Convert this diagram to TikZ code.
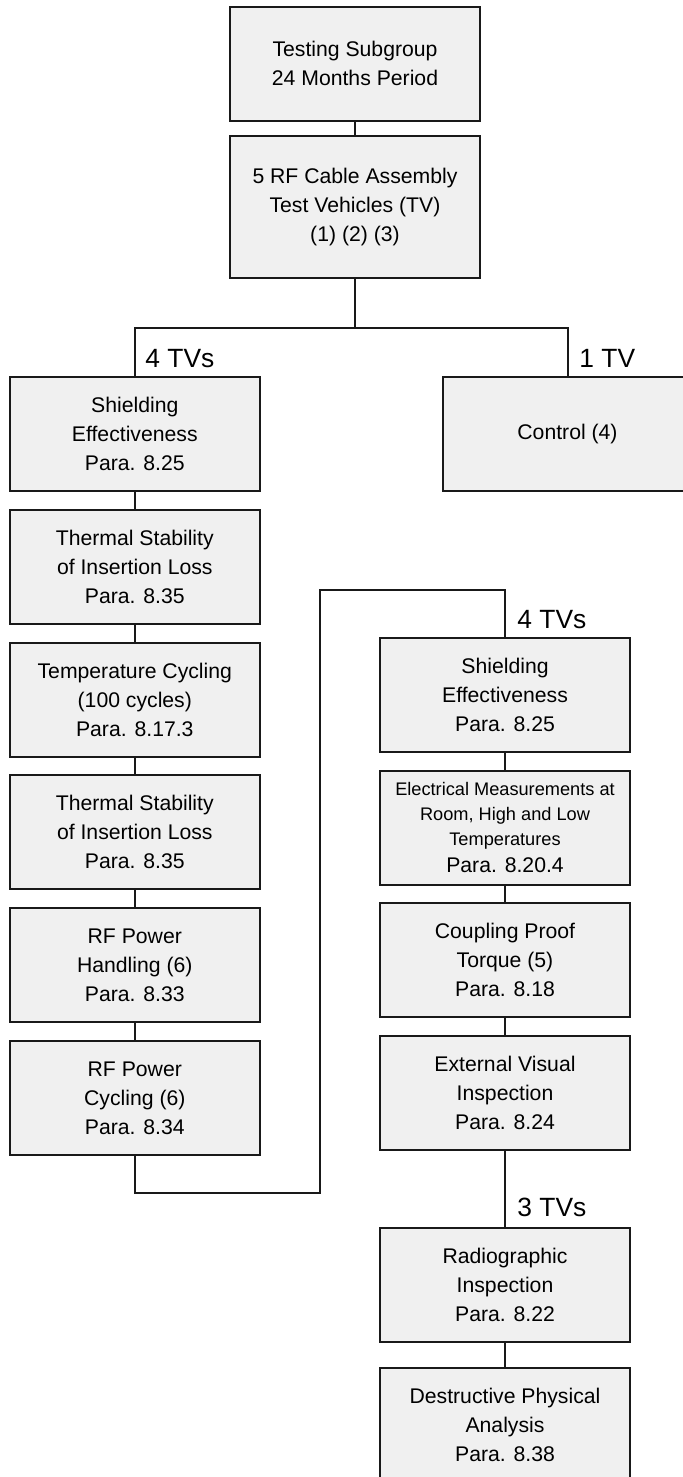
\documentclass[tikz,border=0pt]{standalone}
\usepackage{fontspec}
\setmainfont{Liberation Sans}
\usepackage{tikz}
\usetikzlibrary{positioning}
\tikzstyle{testbox} = [draw=black!90, fill=black!6, line width=1pt, minimum width=125pt, minimum height=57pt, align=center, inner sep=0pt, font=\fontsize{10.6}{14.5}\selectfont]
\tikzstyle{tvcount} = [anchor=base west, inner sep=0pt, font=\fontsize{13.2}{16}\selectfont]
\tikzstyle{link} = [line width=1pt, draw=black!90]

\begin{document}
\begin{tikzpicture}[x=0.5pt, y=-0.5pt, node distance=8.4pt]
    \clip (0,0) rectangle (683,1477);

    % Head of the flow
    \node[testbox] (subgroup) at (355,63.7) {Testing Subgroup\\24 Months Period};
    \node[testbox, minimum height=70.85pt] (vehicles) at (355,207) {5 RF Cable Assembly\\Test Vehicles (TV)\\(1) (2) (3)};

    % Left column (4 TVs)
    \node[testbox] (shieldA) at (134.8,434) {Shielding\\Effectiveness\\Para. 8.25};
    \node[testbox, below=of shieldA] (thermA) {Thermal Stability\\of Insertion Loss\\Para. 8.35};
    \node[testbox, below=of thermA] (tempcyc) {Temperature Cycling\\(100 cycles)\\Para. 8.17.3};
    \node[testbox, below=of tempcyc] (thermB) {Thermal Stability\\of Insertion Loss\\Para. 8.35};
    \node[testbox, below=of thermB] (rfhandle) {RF Power\\Handling (6)\\Para. 8.33};
    \node[testbox, below=of rfhandle] (rfcycle) {RF Power\\Cycling (6)\\Para. 8.34};

    % Control (1 TV)
    \node[testbox] (control) at (567.5,434) {Control (4)};

    % Right column
    \node[testbox] (shieldB) at (505,694.7) {Shielding\\Effectiveness\\Para. 8.25};
    \node[testbox, below=of shieldB, font=\fontsize{9.1}{12.4}\selectfont] (elec) {Electrical Measurements at\\Room, High and Low\\Temperatures\\[1.2pt]\fontsize{10.6}{14.5}\selectfont Para. 8.20.4};
    \node[testbox, below=of elec] (torque) {Coupling Proof\\Torque (5)\\Para. 8.18};
    \node[testbox, below=of torque] (visual) {External Visual\\Inspection\\Para. 8.24};
    \node[testbox] (xray) at (505,1285) {Radiographic\\Inspection\\Para. 8.22};
    \node[testbox, below=12pt of xray] (dpa) {Destructive Physical\\Analysis\\Para. 8.38};

    % TV counts
    \node[tvcount] (tvleft) at (145,367) {4 TVs};
    \node[tvcount] (tvctrl) at (579,367) {1 TV};
    \node[tvcount] (tvright) at (517,628.3) {4 TVs};
    \node[tvcount] (tvxray) at (517,1216.7) {3 TVs};

    % Connectors
    \coordinate (split) at (355,327.7);
    \coordinate (loopa) at (320,1193.3);
    \coordinate (loopb) at (320,590);
    \draw[link] (subgroup) -- (vehicles);
    \draw[link] (vehicles) -- (split);
    \draw[link] (shieldA.north) |- (split) -| (control.north);
    \draw[link] (shieldA) -- (thermA);
    \draw[link] (thermA) -- (tempcyc);
    \draw[link] (tempcyc) -- (thermB);
    \draw[link] (thermB) -- (rfhandle);
    \draw[link] (rfhandle) -- (rfcycle);
    \draw[link] (rfcycle.south) |- (loopa) -- (loopb) -| (shieldB.north);
    \draw[link] (shieldB) -- (elec);
    \draw[link] (elec) -- (torque);
    \draw[link] (torque) -- (visual);
    \draw[link] (visual) -- (xray);
    \draw[link] (xray) -- (dpa);
\end{tikzpicture}
\end{document}
